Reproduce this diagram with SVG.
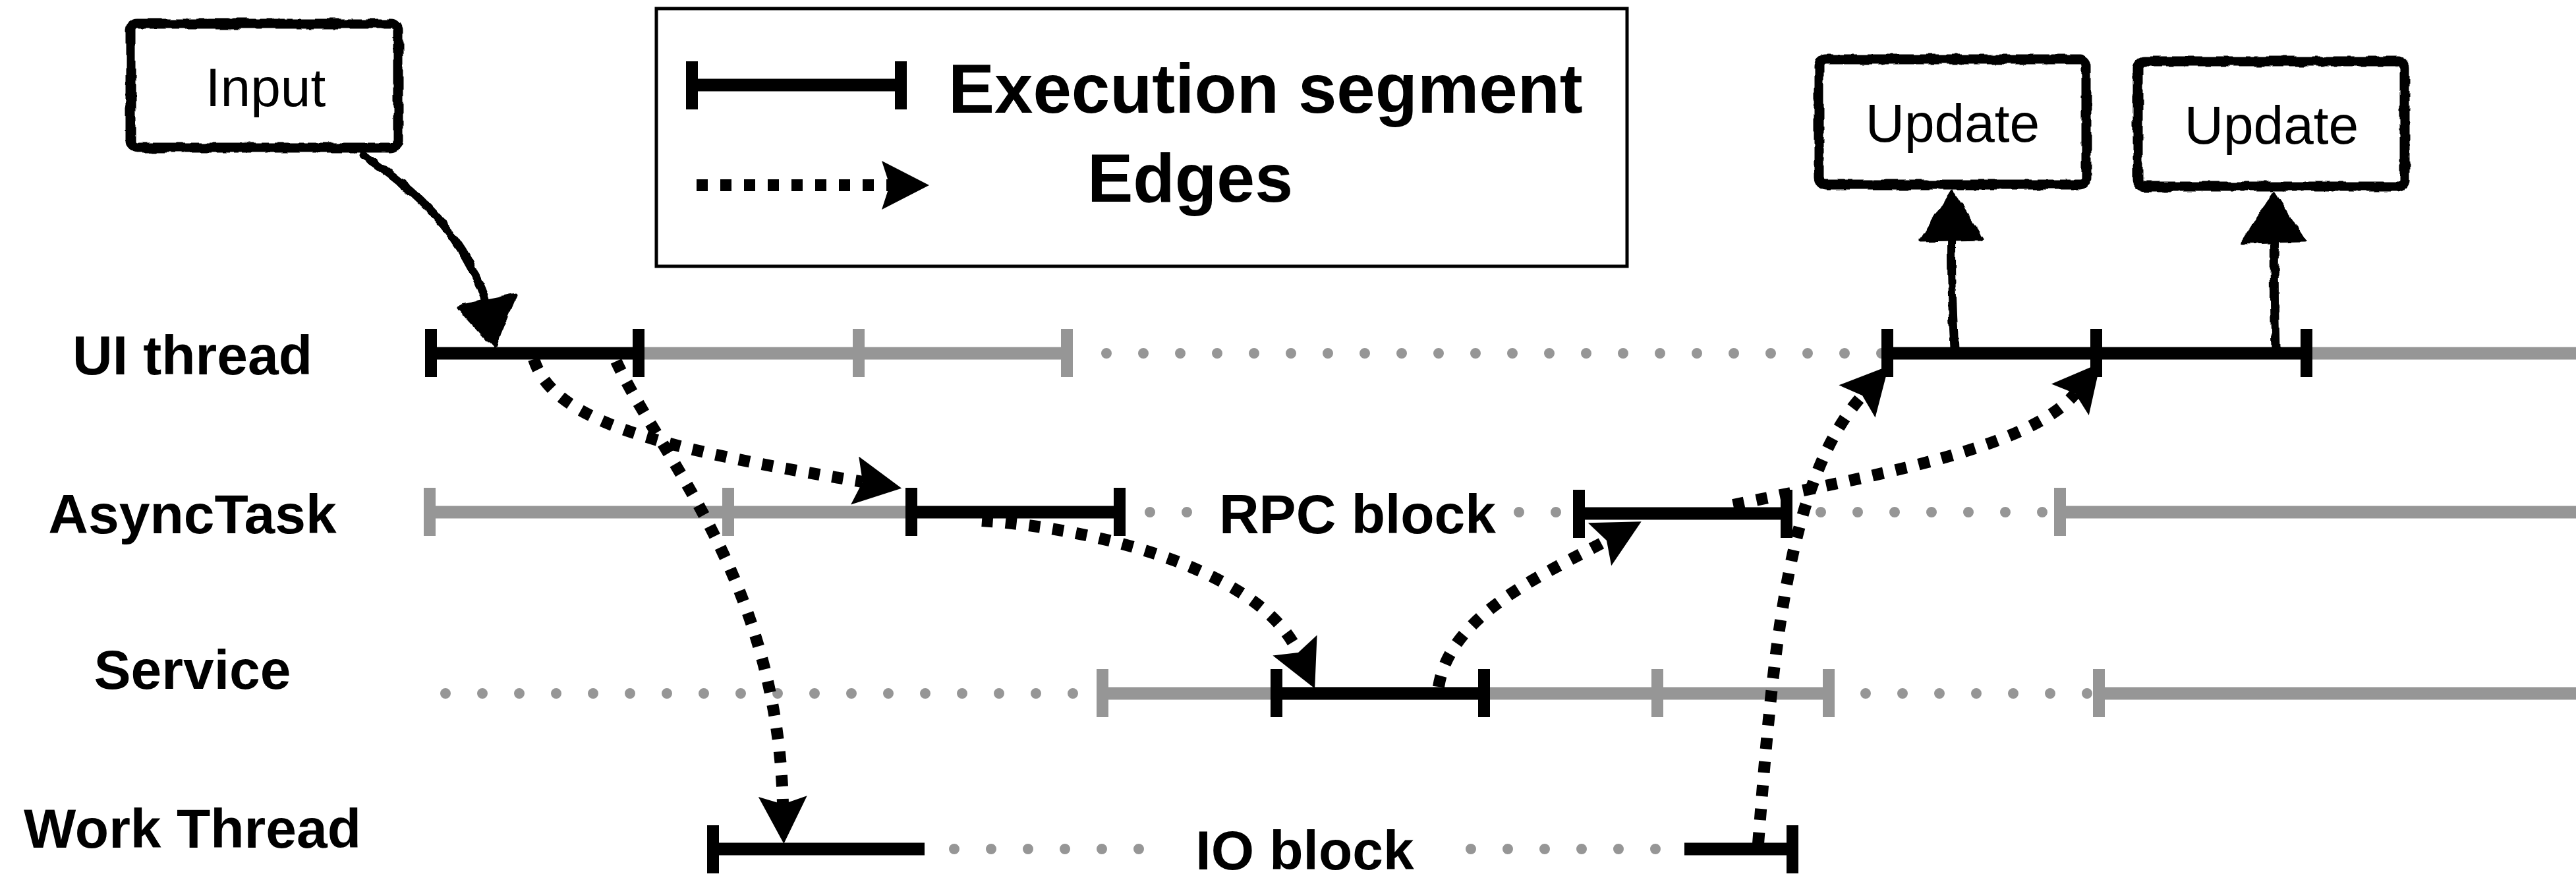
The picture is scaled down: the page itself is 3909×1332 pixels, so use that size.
<svg xmlns="http://www.w3.org/2000/svg" width="3909" height="1332" viewBox="0 0 3909 1332">
  <defs>
    <style>
      .lbl{font-family:"Liberation Sans",Arial,Helvetica,sans-serif;font-weight:bold;font-size:84px;fill:#000;text-anchor:middle}
      .legend-text{font-family:"Liberation Sans",Arial,Helvetica,sans-serif;font-weight:bold;font-size:105px;fill:#000}
      .box-text{font-family:"Liberation Sans",Arial,Helvetica,sans-serif;font-size:82px;fill:#000;text-anchor:middle}
      .seg{stroke:#000;stroke-width:19;fill:none}
      .idle{stroke:#969696;stroke-width:19;fill:none}
      .tick{stroke:#000;stroke-width:18}
      .gtick{stroke:#969696;stroke-width:18}
      .wait{stroke:#969696;stroke-width:16;stroke-linecap:round;stroke-dasharray:0 56;fill:none}
      .edge{stroke:#000;stroke-width:18;stroke-dasharray:17 19;fill:none;marker-end:url(#head)}
      .sketch-box{fill:#fff;stroke:#000;stroke-width:15}
      .sketch-line{stroke:#000;stroke-width:13;fill:none;stroke-linecap:round}
      .sketch-head{fill:#000;stroke:#000;stroke-width:5;stroke-linejoin:round}
    </style>
    <marker id="head" markerUnits="userSpaceOnUse" markerWidth="74" markerHeight="74" viewBox="0 0 72 74" refX="12" refY="37" orient="auto">
      <path d="M0,0 L72,37 L0,74 L12,37 z" fill="#000"/>
    </marker>
    <filter id="rough" filterUnits="userSpaceOnUse" x="0" y="0" width="3909" height="1332">
      <feTurbulence type="fractalNoise" baseFrequency="0.05" numOctaves="2" seed="4" result="noise"/>
      <feDisplacementMap in="SourceGraphic" in2="noise" scale="7" xChannelSelector="R" yChannelSelector="G"/>
    </filter>
  </defs>

  <!-- legend -->
  <g id="legend">
    <rect x="996" y="13" width="1473" height="391" fill="none" stroke="#000" stroke-width="5"/>
    <line class="seg" x1="1050" y1="129" x2="1367" y2="129"/>
    <line class="tick" x1="1050" y1="93" x2="1050" y2="166"/>
    <line class="tick" x1="1367" y1="93" x2="1367" y2="166"/>
    <text class="legend-text" x="1439" y="171">Execution segment</text>
    <path class="edge" d="M1057,281 L1350,281"/>
    <text class="legend-text" x="1806" y="306" text-anchor="middle" style="font-size:104px">Edges</text>
  </g>

  <!-- row labels -->
  <g id="labels">
    <text class="lbl" x="292" y="568">UI thread</text>
    <text class="lbl" x="292" y="809">AsyncTask</text>
    <text class="lbl" x="292" y="1045">Service</text>
    <text class="lbl" x="292" y="1286">Work Thread</text>
  </g>

  <!-- UI thread timeline -->
  <g id="ui-thread">
    <line class="idle" x1="969" y1="536" x2="1619" y2="536"/>
    <line class="gtick" x1="1303" y1="499" x2="1303" y2="572"/>
    <line class="gtick" x1="1619" y1="499" x2="1619" y2="572"/>
    <line class="wait" x1="1679" y1="536" x2="2855.1" y2="536"/>
    <line class="idle" x1="3500" y1="536" x2="3909" y2="536"/>
    <line class="seg" x1="654" y1="536" x2="969" y2="536"/>
    <line class="tick" x1="654" y1="499" x2="654" y2="572"/>
    <line class="tick" x1="969" y1="499" x2="969" y2="572"/>
    <line class="seg" x1="2864" y1="536" x2="3500" y2="536"/>
    <line class="tick" x1="2864" y1="499" x2="2864" y2="572"/>
    <line class="tick" x1="3181" y1="499" x2="3181" y2="572"/>
    <line class="tick" x1="3500" y1="499" x2="3500" y2="572"/>
  </g>

  <!-- AsyncTask timeline -->
  <g id="async-task">
    <line class="idle" x1="652" y1="777" x2="1383" y2="777"/>
    <line class="gtick" x1="652" y1="740" x2="652" y2="813"/>
    <line class="gtick" x1="1105" y1="740" x2="1105" y2="813"/>
    <line class="seg" x1="1383" y1="777" x2="1699" y2="777"/>
    <line class="tick" x1="1383" y1="740" x2="1383" y2="813"/>
    <line class="tick" x1="1699" y1="740" x2="1699" y2="813"/>
    <line class="wait" x1="1745" y1="777" x2="1801.1" y2="777"/>
    <text class="lbl" x="2060" y="809">RPC block</text>
    <line class="wait" x1="2305" y1="777" x2="2361.1" y2="777"/>
    <line class="seg" x1="2396" y1="779" x2="2711" y2="779"/>
    <line class="tick" x1="2396" y1="743" x2="2396" y2="816"/>
    <line class="tick" x1="2711" y1="743" x2="2711" y2="816"/>
    <line class="wait" x1="2763" y1="777" x2="3099.1" y2="777"/>
    <line class="idle" x1="3126" y1="777" x2="3909" y2="777"/>
    <line class="gtick" x1="3126" y1="740" x2="3126" y2="813"/>
  </g>

  <!-- Service timeline -->
  <g id="service">
    <line class="wait" x1="676" y1="1052" x2="1628.1" y2="1052"/>
    <line class="idle" x1="1673" y1="1052" x2="2775" y2="1052"/>
    <line class="gtick" x1="1673" y1="1015" x2="1673" y2="1088"/>
    <line class="gtick" x1="2515" y1="1015" x2="2515" y2="1088"/>
    <line class="gtick" x1="2775" y1="1015" x2="2775" y2="1088"/>
    <line class="seg" x1="1937" y1="1052" x2="2252" y2="1052"/>
    <line class="tick" x1="1937" y1="1015" x2="1937" y2="1088"/>
    <line class="tick" x1="2252" y1="1015" x2="2252" y2="1088"/>
    <line class="wait" x1="2831" y1="1052" x2="3167.1" y2="1052"/>
    <line class="idle" x1="3185" y1="1052" x2="3909" y2="1052"/>
    <line class="gtick" x1="3185" y1="1015" x2="3185" y2="1088"/>
  </g>

  <!-- Work Thread timeline -->
  <g id="work-thread">
    <line class="seg" x1="1082" y1="1288" x2="1403" y2="1288"/>
    <line class="tick" x1="1082" y1="1252" x2="1082" y2="1325"/>
    <line class="wait" x1="1448" y1="1288" x2="1728.1" y2="1288"/>
    <text class="lbl" x="1980" y="1319">IO block</text>
    <line class="wait" x1="2232" y1="1288" x2="2512.1" y2="1288"/>
    <line class="seg" x1="2556" y1="1288" x2="2720" y2="1288"/>
    <line class="tick" x1="2720" y1="1252" x2="2720" y2="1325"/>
  </g>

  <!-- hand-drawn event boxes -->
  <g id="input">
    <rect class="sketch-box" x="198" y="36" width="406" height="188" rx="10" filter="url(#rough)"/>
    <text class="box-text" x="403" y="161">Input</text>
  </g>
  <g id="update-1">
    <rect class="sketch-box" x="2760" y="90" width="406" height="190" rx="10" filter="url(#rough)"/>
    <text class="box-text" x="2963" y="215">Update</text>
  </g>
  <g id="update-2">
    <rect class="sketch-box" x="3244" y="93" width="405" height="190" rx="10" filter="url(#rough)"/>
    <text class="box-text" x="3447" y="218">Update</text>
  </g>

  <!-- connectors -->
  <g id="connectors">
    <!-- hand-drawn arrows -->
    <g filter="url(#rough)">
      <path class="sketch-line" d="M551,236 Q700,330 742,470"/>
      <polygon class="sketch-head" points="695,465 782,448 750,526"/>
      <path class="sketch-line" d="M2966,526 Q2960,430 2962,340"/>
      <polygon class="sketch-head" points="2916,364 3008,362 2962,290"/>
      <path class="sketch-line" d="M3453,526 Q3450,430 3452,344"/>
      <polygon class="sketch-head" points="3403,368 3497,366 3451,294"/>
    </g>
    <!-- dependency edges -->
    <path class="edge" d="M810,545 C840,640 1000,680 1309,731"/>
    <path class="edge" d="M935,548 C1000,690 1180,880 1188,1220"/>
    <path class="edge" d="M1490,790 C1650,800 1910,860 1970,990"/>
    <path class="edge" d="M2183,1042 C2200,930 2350,868 2438,820"/>
    <path class="edge" d="M2630,766 C2850,720 3080,680 3149,597"/>
    <path class="edge" d="M2668,1280 C2690,1000 2710,730 2826,600"/>
  </g>
</svg>
